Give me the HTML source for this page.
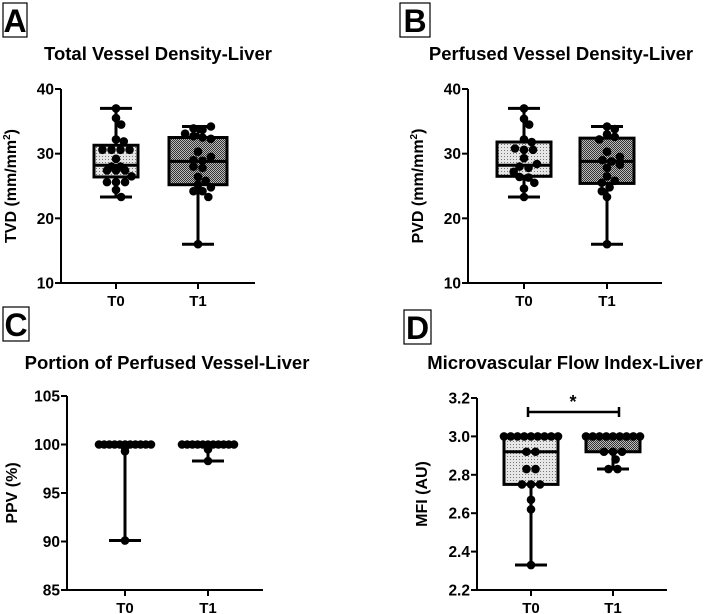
<!DOCTYPE html>
<html><head><meta charset="utf-8"><style>
html,body{margin:0;padding:0;background:#fff;}
svg{display:block;font-family:"Liberation Sans",Arial,sans-serif;font-weight:bold;}
</style></head><body>
<svg id="fig" width="708" height="614" viewBox="0 0 708 614">
<defs>
<pattern id="lightDots" width="3" height="3" patternUnits="userSpaceOnUse"><rect width="3" height="3" fill="#e6e6e6"/><rect width="1" height="1" fill="#777"/></pattern>
<pattern id="darkCheck" width="2" height="2" patternUnits="userSpaceOnUse"><rect width="2" height="2" fill="#bbb"/><rect width="1" height="1" fill="#333"/><rect x="1" y="1" width="1" height="1" fill="#333"/></pattern>
</defs>
</svg>
<script>
// Panel A data (TVD)
const tvdT0 = [37.0,35.5,34.5,32.2,31.9,30.6,30.6,30.6,30.6,29.2,28.0,28.0,27.4,27.4,27.4,26.5,25.6,25.6,25.6,24.4,23.3];
const tvdT1 = [34.2,33.9,33.7,33.1,32.7,32.5,32.3,30.3,29.5,29.0,28.9,28.0,27.8,26.4,25.8,25.2,24.8,24.2,24.2,23.3,16.0];
const tvdBoxT0 = [23.3,26.4,28.2,31.3,37.0];
const tvdBoxT1 = [16.0,25.2,28.8,32.5,34.2];
// Panel B data (PVD)
const pvdT0 = [37.0,35.4,34.5,32.2,31.8,30.8,30.6,30.6,29.3,28.4,28.0,27.8,27.2,26.4,26.3,25.5,24.6,23.3];
const pvdT1 = [34.2,33.8,33.0,32.6,32.2,30.3,29.5,29.0,28.8,28.3,27.8,26.5,25.8,25.5,24.8,24.2,23.3,16.0];
const pvdBoxT0 = [23.3,26.5,28.2,31.8,37.0];
const pvdBoxT1 = [16.0,25.4,28.8,32.4,34.2];
// Panel C data (PPV)
const ppvT0 = [100,100,100,100,100,100,100,100,100,100,100,99.7,99.3,90.1];
const ppvT1 = [100,100,100,100,100,100,100,100,100,100,100,99.5,98.3];
const ppvBoxT0 = [90.1,100,100,100,100];
const ppvBoxT1 = [98.3,100,100,100,100];
// Panel D data (MFI)
const mfiT0 = [3.0,3.0,3.0,3.0,3.0,3.0,3.0,3.0,3.0,2.92,2.92,2.83,2.83,2.75,2.75,2.75,2.67,2.62,2.33];
const mfiT1 = [3.0,3.0,3.0,3.0,3.0,3.0,3.0,3.0,3.0,2.92,2.92,2.92,2.88,2.83,2.83];
const mfiBoxT0 = [2.33,2.75,2.92,3.0,3.0];
const mfiBoxT1 = [2.83,2.92,3.0,3.0,3.0];
const groups = ["T0","T1"];

const NS="http://www.w3.org/2000/svg";
const svg=document.getElementById('fig');
function mk(tag,attrs,parent){const e=document.createElementNS(NS,tag);for(const k in attrs)e.setAttribute(k,attrs[k]);(parent||svg).appendChild(e);return e;}

function panel(o){
  const g=mk('g',{});
  
  
  const yS=v=>o.yb+(v-o.min)/(o.max-o.min)*(o.yt-o.yb);
  const lb=mk('rect',{x:o.lx,y:o.ly,width:o.lw,height:34,fill:'none',stroke:'#000','stroke-width':1.2},g);
  
  
  const lt=mk('text',{x:o.lx+o.lw/2,y:o.ly+29,'text-anchor':'middle','font-size':32},g);lt.textContent=o.letter;
  
  
  const t=mk('text',{x:o.tx,y:o.ty,'text-anchor':'middle','font-size':18.5},g);t.textContent=o.title;
  
  
  const ya=mk('line',{x1:o.ax,y1:o.yt,x2:o.ax,y2:o.yb+1,stroke:'#000','stroke-width':2},g);
  
  
  const xa=mk('line',{x1:o.ax-1,y1:o.yb,x2:o.axEnd,y2:o.yb,stroke:'#000','stroke-width':2},g);
  
  
  o.ticks.forEach(v=>{
    const y=yS(v);
    mk('line',{x1:o.ax-6,y1:y,x2:o.ax,y2:y,stroke:'#000','stroke-width':2},g);
    const tl=mk('text',{x:o.ax-7,y:y+5.5,'text-anchor':'end','font-size':15.5},g);tl.textContent=o.fmt(v);
    
    
  });
  const yt=mk('text',{transform:`translate(${o.ax-o.yOff},${(o.yt+o.yb)/2}) rotate(-90)`,'text-anchor':'middle','font-size':16},g);
  yt.innerHTML=o.ylab;
  
  
  o.series.forEach((s,i)=>{
    const cx=o.gx[i];
    mk('line',{x1:cx,y1:o.yb,x2:cx,y2:o.yb+6,stroke:'#000','stroke-width':2},g);
    const xl=mk('text',{x:cx,y:o.yb+23,'text-anchor':'middle','font-size':15},g);xl.textContent=groups[i];
    
    
    const b=s.box, hw=s.hw;
    const wl=mk('line',{x1:cx,y1:yS(b[0]),x2:cx,y2:yS(b[4]),stroke:'#000','stroke-width':3},g);
    
    
    [b[0],b[4]].forEach(v=>mk('line',{x1:cx-16,y1:yS(v),x2:cx+16,y2:yS(v),stroke:'#000','stroke-width':3},g));
    const bx=mk('rect',{x:cx-hw,y:yS(b[3]),width:2*hw,height:Math.max(0.5,yS(b[1])-yS(b[3])),fill:i?'url(#darkCheck)':'url(#lightDots)',stroke:'#000','stroke-width':3},g);
    
    
    mk('line',{x1:cx-hw,y1:yS(b[2]),x2:cx+hw,y2:yS(b[2]),stroke:'#000','stroke-width':3},g);
    const r=4.3,d=2*r;
    const bins=[];
    s.pts.forEach(v=>{
      const y=yS(v);
      let bin=bins.find(bb=>Math.abs(bb.y-y)<1.5);
      if(!bin){bin={y:y,ys:[]};bins.push(bin);}
      bin.ys.push(y);
    });
    const placed=[];
    const dot=(x,y)=>{placed.push([x,y]);
      const c=mk('circle',{cx:x,cy:y,r:r,fill:'#000'},g);
      
      };
    // multi-point bins first
    bins.filter(bb=>bb.ys.length>1).forEach(bin=>{
      const n=bin.ys.length;
      const sp=Math.min(d*1.05,(2*hw)/(n-1));
      bin.ys.forEach((y,k)=>dot(cx+(k-(n-1)/2)*sp,y));
    });
    bins.filter(bb=>bb.ys.length===1).forEach(bin=>{
      const y=bin.y;let best=0;
      for(let k=0;k<30;k++){
        const cand=k===0?0:(k%2?1:-1)*Math.ceil(k/2)*r*0.6;
        if(Math.abs(cand)>hw)break;
        if(placed.every(p=>Math.hypot(p[0]-(cx+cand),p[1]-y)>=d*0.9)){best=cand;break;}
      }
      dot(cx+best,y);
    });
  });
  return {g,yS};
}

panel({letter:'A',lx:3,ly:3,lw:24,title:'Total Vessel Density-Liver',tx:158,ty:60,ax:61,axEnd:255,yt:89,yb:283,min:10,max:40,ticks:[10,20,30,40],fmt:v=>v,yOff:45,
  ylab:'TVD (mm/mm<tspan font-size="10" dy="-6">2</tspan><tspan dy="6">)</tspan>',gx:[116,198],
  series:[{pts:tvdT0,box:tvdBoxT0,hw:22},{pts:tvdT1,box:tvdBoxT1,hw:29}]});
panel({letter:'B',lx:400,ly:3,lw:30,title:'Perfused Vessel Density-Liver',tx:561,ty:60,ax:468,axEnd:662,yt:89,yb:283,min:10,max:40,ticks:[10,20,30,40],fmt:v=>v,yOff:45,
  ylab:'PVD (mm/mm<tspan font-size="10" dy="-6">2</tspan><tspan dy="6">)</tspan>',gx:[524,607],
  series:[{pts:pvdT0,box:pvdBoxT0,hw:27},{pts:pvdT1,box:pvdBoxT1,hw:27}]});
panel({letter:'C',lx:3,ly:307,lw:26,title:'Portion of Perfused Vessel-Liver',tx:167,ty:369,ax:67,axEnd:263,yt:396,yb:590,min:85,max:105,ticks:[85,90,95,100,105],fmt:v=>v,yOff:50,
  ylab:'PPV (%)',gx:[125,208],
  series:[{pts:ppvT0,box:ppvBoxT0,hw:26},{pts:ppvT1,box:ppvBoxT1,hw:26}]});
const pd=panel({letter:'D',lx:404,ly:310,lw:27,title:'Microvascular Flow Index-Liver',tx:565,ty:369,ax:477,axEnd:667,yt:398,yb:590,min:2.2,max:3.2,ticks:[2.2,2.4,2.6,2.8,3.0,3.2],fmt:v=>v.toFixed(1),yOff:50,
  ylab:'MFI (AU)',gx:[531,613],
  series:[{pts:mfiT0,box:mfiBoxT0,hw:27},{pts:mfiT1,box:mfiBoxT1,hw:27}]});
const br=mk('path',{d:'M528,407 V417 M528,412 H619 M619,407 V417',stroke:'#000','stroke-width':2.5,fill:'none'},pd.g);


const st=mk('text',{x:573,y:408,'text-anchor':'middle','font-size':18},pd.g);st.textContent='*';


</script>
</body></html>
